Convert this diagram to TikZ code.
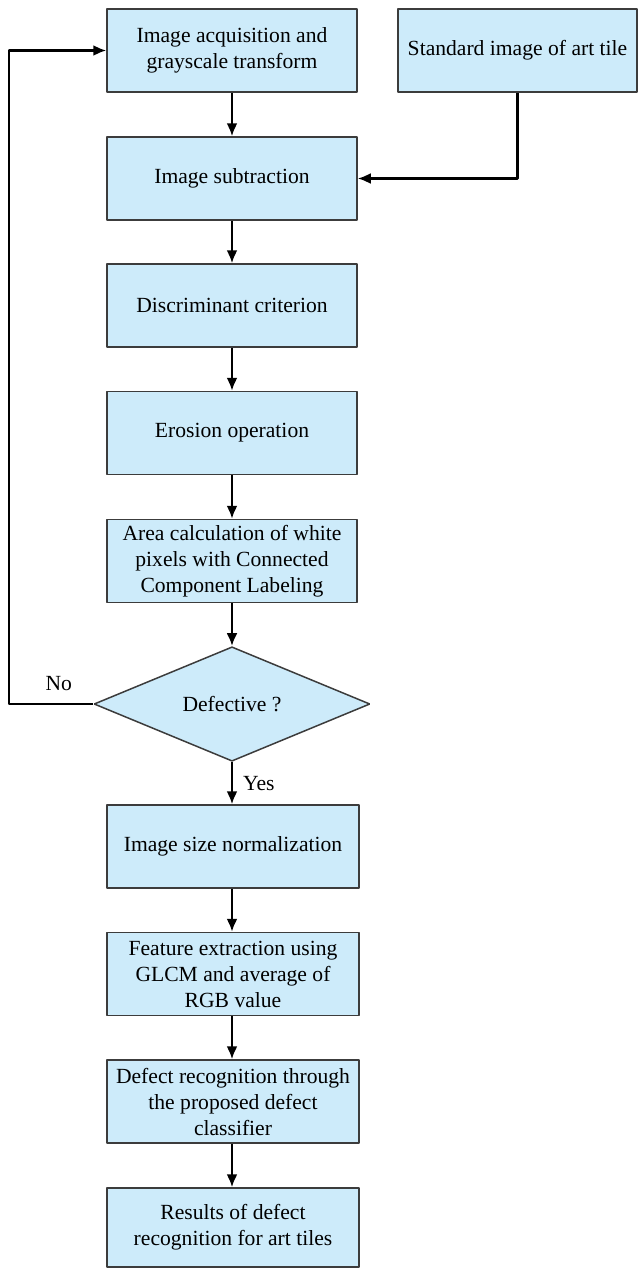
\documentclass[tikz,border=0pt]{standalone}
\usepackage{fontspec}
\setmainfont{Liberation Serif}
\usepackage{tikz}
\usetikzlibrary{shapes.geometric,arrows.meta}

\definecolor{boxfill}{RGB}{205,235,250}
\definecolor{boxline}{RGB}{60,60,60}

\begin{document}
\begin{tikzpicture}[>={Latex[length=13bp,width=11bp]},line join=bevel,
  font=\rmfamily\fontsize{21.6bp}{26bp}\selectfont,
  stepbox/.style={draw=boxline,fill=boxfill,line width=1.5bp,minimum width=250bp,minimum height=83bp,inner sep=0pt,align=center},
  testbox/.style={draw=boxline,fill=boxfill,line width=1.5bp,diamond,minimum width=276bp,minimum height=109bp,inner sep=0pt},
  flow/.style={black,line width=2.2bp,->},
  ]
\useasboundingbox (0bp,0bp) rectangle (638bp,-1268bp);
%%
\node (node_acq) at (232bp,-50.5bp) [stepbox] {Image acquisition and\\grayscale transform};
  \node (node_std) at (517.5bp,-50.5bp) [stepbox,minimum width=239bp] {Standard image of art tile};
  \node (node_sub) at (232bp,-178.5bp) [stepbox] {Image subtraction};
  \node (node_disc) at (232bp,-305.5bp) [stepbox] {Discriminant criterion};
  \node (node_ero) at (232bp,-433bp) [stepbox] {Erosion operation};
  \node (node_area) at (232bp,-561bp) [stepbox] {Area calculation of white\\pixels with Connected\\Component Labeling};
  \node (node_dec) at (232bp,-704bp) [testbox] {Defective ?};
  \node (node_norm) at (233bp,-846.5bp) [stepbox,minimum width=252bp] {Image size normalization};
  \node (node_feat) at (233bp,-974bp) [stepbox,minimum width=252bp] {Feature extraction using\\GLCM and average of\\RGB value};
  \node (node_cls) at (233bp,-1101.5bp) [stepbox,minimum width=252bp] {Defect recognition through\\the proposed defect\\classifier};
  \node (node_res) at (233bp,-1227.5bp) [stepbox,minimum width=252bp,minimum height=79bp] {Results of defect\\recognition for art tiles};
  \coordinate (back) at (9bp,-704bp);
  \draw [flow] (node_acq) -- (node_sub);
  \draw [flow] (node_std.south) |- (node_sub.east);
  \draw [flow] (node_sub) -- (node_disc);
  \draw [flow] (node_disc) -- (node_ero);
  \draw [flow] (node_ero) -- (node_area);
  \draw [flow] (node_area) -- (node_dec);
  \draw [flow] (node_dec.south) -- node [right=10bp,inner sep=0pt] {Yes} (node_dec.south |- node_norm.north);
  \draw [flow] (node_dec.west) -- node [above=12bp,pos=0.41,inner sep=0pt] {No} (back) |- (node_acq.west);
  \draw [flow] (node_norm.south -| node_dec.south) -- (node_feat.north -| node_dec.south);
  \draw [flow] (node_feat.south -| node_dec.south) -- (node_cls.north -| node_dec.south);
  \draw [flow] (node_cls.south -| node_dec.south) -- (node_res.north -| node_dec.south);
%
\end{tikzpicture}
\end{document}
